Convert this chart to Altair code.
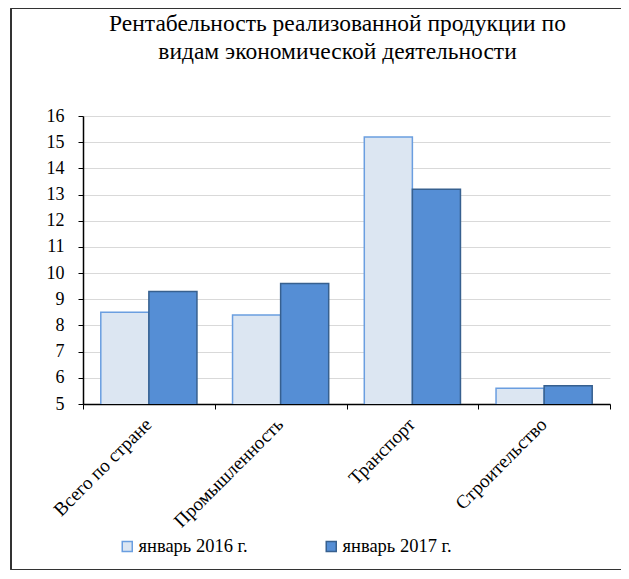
import altair as alt
import pandas as pd

categories = ["Всего по стране", "Промышленность", "Транспорт", "Строительство"]
series = ["январь 2016 г.", "январь 2017 г."]
values_2016 = [8.5, 8.4, 15.2, 5.6]
values_2017 = [9.3, 9.6, 13.2, 5.7]

rows = []
for c, v in zip(categories, values_2016):
    rows.append({"cat": c, "series": series[0], "value": v})
for c, v in zip(categories, values_2017):
    rows.append({"cat": c, "series": series[1], "value": v})
df = pd.DataFrame(rows)

FONT = "Liberation Serif"
W, H = 527, 288

bars = alt.Chart(df).mark_bar(strokeWidth=1.5, clip=True).encode(
    x=alt.X("cat:N", sort=categories, title=None,
            scale=alt.Scale(paddingInner=0, paddingOuter=0),
            axis=alt.Axis(labelAngle=-45, labelAlign="right", labelBaseline="middle",
                          labelFontSize=19, labelFont=FONT, labelColor="black",
                          tickBand="extent", labelOffset=-1,
                          domainColor="black", domainWidth=1.5,
                          tickColor="black", tickSize=5, labelPadding=12, grid=False,
                          labelLimit=300)),
    xOffset=alt.XOffset("series:N", sort=series,
                        scale=alt.Scale(paddingInner=0, paddingOuter=0.37)),
    y=alt.Y("value:Q", title=None,
            scale=alt.Scale(domain=[5, 16], nice=False, zero=False),
            axis=alt.Axis(values=list(range(5, 17)), labelFontSize=18, labelFont=FONT,
                          labelColor="black", domainColor="black", domainWidth=1.5,
                          tickColor="black", tickSize=5, gridColor="#d9d9d9",
                          labelPadding=14)),
    color=alt.Color("series:N", sort=series,
                    scale=alt.Scale(domain=series, range=["#dce6f2", "#558ed5"]),
                    legend=alt.Legend(title=None, orient="none", direction="horizontal",
                                      legendX=35, legendY=421, symbolType="square",
                                      symbolSize=100, symbolStrokeWidth=1.5,
                                      labelFontSize=18.5, labelFont=FONT, labelColor="black",
                                      columnPadding=74, labelOffset=2)),
    stroke=alt.Stroke("series:N", sort=series,
                      scale=alt.Scale(domain=series, range=["#6a9ee0", "#37608f"]),
                      legend=None),
)

frame = alt.Chart(df).mark_rect(fill=None, stroke="#333333", strokeWidth=1, clip=False).encode(
    x=alt.value(-72), x2=alt.value(W + 30), y=alt.value(-107.5), y2=alt.value(H + 165.5)
)

chart = alt.layer(bars, frame).properties(
    width=W, height=H,
    title=alt.TitleParams(
        ["Рентабельность реализованной продукции по", "видам экономической деятельности"],
        font=FONT, fontSize=23.5, fontWeight="normal", color="black",
        anchor="middle", frame="group", offset=-55, dx=-9, lineHeight=28,
    ),
    autosize=alt.AutoSizeParams(type="none"),
    padding={"left": 75, "top": 108, "right": 11, "bottom": 167},
).configure_view(stroke=None).configure_legend(symbolStrokeColor=None)

chart.save("out.html", embed_options={"renderer": "svg", "actions": False})
